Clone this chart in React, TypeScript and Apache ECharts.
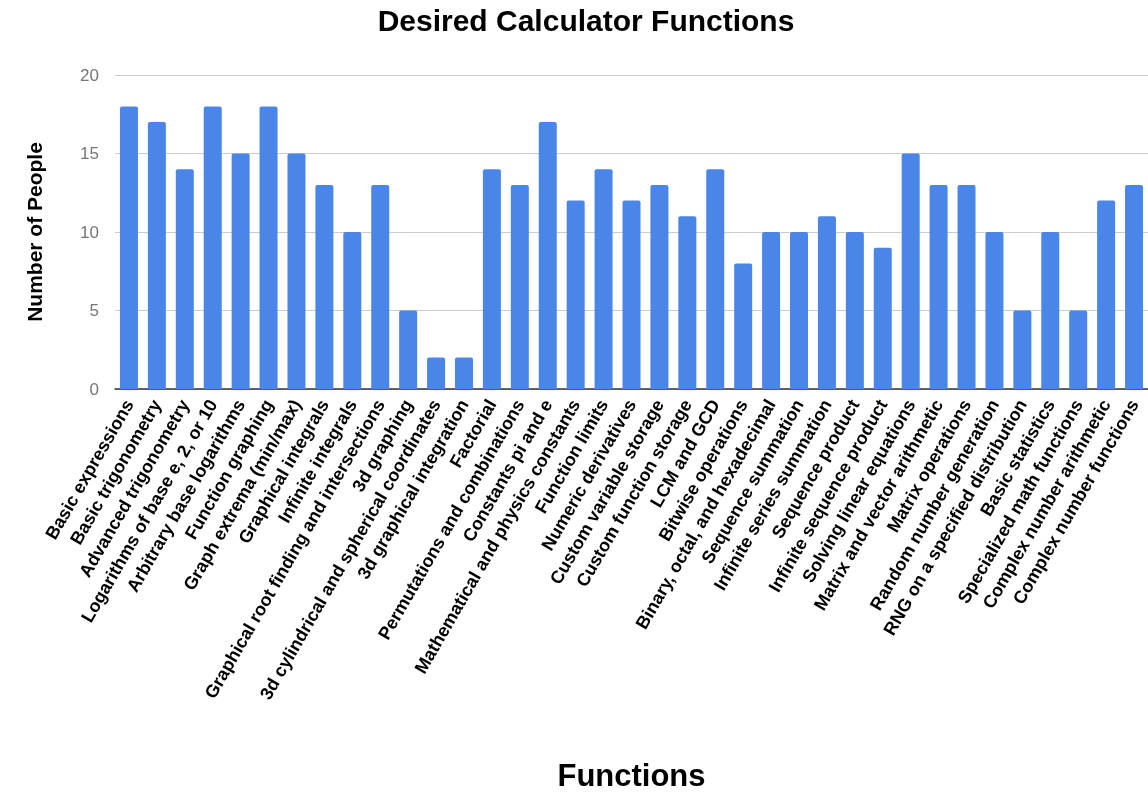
import React, { useEffect, useRef } from "react";
import * as echarts from "echarts";

const categories = [
  "Basic expressions",
  "Basic trigonometry",
  "Advanced trigonometry",
  "Logarithms of base e, 2, or 10",
  "Arbitrary base logarithms",
  "Function graphing",
  "Graph extrema (min/max)",
  "Graphical integrals",
  "Infinite integrals",
  "Graphical root finding and intersections",
  "3d graphing",
  "3d cylindrical and spherical coordinates",
  "3d graphical integration",
  "Factorial",
  "Permutations and combinations",
  "Constants pi and e",
  "Mathematical and physics constants",
  "Function limits",
  "Numeric derivatives",
  "Custom variable storage",
  "Custom function storage",
  "LCM and GCD",
  "Bitwise operations",
  "Binary, octal, and hexadecimal",
  "Sequence summation",
  "Infinite series summation",
  "Sequence product",
  "Infinite sequence product",
  "Solving linear equations",
  "Matrix and vector arithmetic",
  "Matrix operations",
  "Random number generation",
  "RNG on a specified distribution",
  "Basic statistics",
  "Specialized math functions",
  "Complex number arithmetic",
  "Complex number functions",
];

const people = [
  18, 17, 14, 18, 15, 18, 15, 13, 10, 13, 5, 2, 2, 14, 13, 17, 12, 14, 12, 13,
  11, 14, 8, 10, 10, 11, 10, 9, 15, 13, 13, 10, 5, 10, 5, 12, 13,
];

const yTicks = [0, 5, 10, 15, 20];

const FONT = "'Liberation Sans', Arial, sans-serif";

export default function App() {
  const ref = useRef<HTMLDivElement>(null);
  useEffect(() => {
    if (!ref.current) return;
    const chart = echarts.init(ref.current, undefined, { renderer: "svg" });
    chart.setOption({
      animation: false,
      textStyle: { fontFamily: FONT },
      title: {
        text: "Desired Calculator Functions",
        left: 581,
        textAlign: "center",
        top: 0,
        textStyle: { fontFamily: FONT, fontWeight: "bold", fontSize: 30, color: "#000" },
      },
      grid: { left: 115, width: 1036, top: 75, bottom: 398, containLabel: false },
      xAxis: {
        type: "category",
        data: categories,
        name: "Functions",
        nameLocation: "middle",
        nameGap: 371,
        nameTextStyle: { fontFamily: FONT, fontWeight: "bold", fontSize: 31, color: "#000" },
        axisLine: { lineStyle: { color: "#333", width: 1.5 } },
        axisTick: { show: false },
        axisLabel: {
          interval: 0,
          rotate: 60,
          margin: 12,
          fontFamily: FONT,
          fontWeight: "bold",
          fontSize: 18,
          color: "#000",
        },
      },
      yAxis: {
        type: "value",
        min: yTicks[0],
        max: yTicks[yTicks.length - 1],
        interval: 5,
        name: "Number of People",
        nameLocation: "middle",
        nameGap: 70,
        nameTextStyle: { fontFamily: FONT, fontWeight: "bold", fontSize: 21, color: "#000" },
        axisLine: { show: false },
        axisTick: { show: false },
        axisLabel: { fontFamily: FONT, fontSize: 17, color: "#757575", margin: 16 },
        splitLine: { lineStyle: { color: "#ccc", width: 1 } },
      },
      series: [
        {
          type: "bar",
          data: people,
          barWidth: 18,
          itemStyle: { color: "#4a86e8", borderRadius: [2, 2, 0, 0] },
        },
      ],
    });
    return () => chart.dispose();
  }, []);
  return (
    <div
      ref={ref}
      style={{ position: "fixed", left: 0, top: 0, width: 1148, height: 792 }}
    />
  );
}
